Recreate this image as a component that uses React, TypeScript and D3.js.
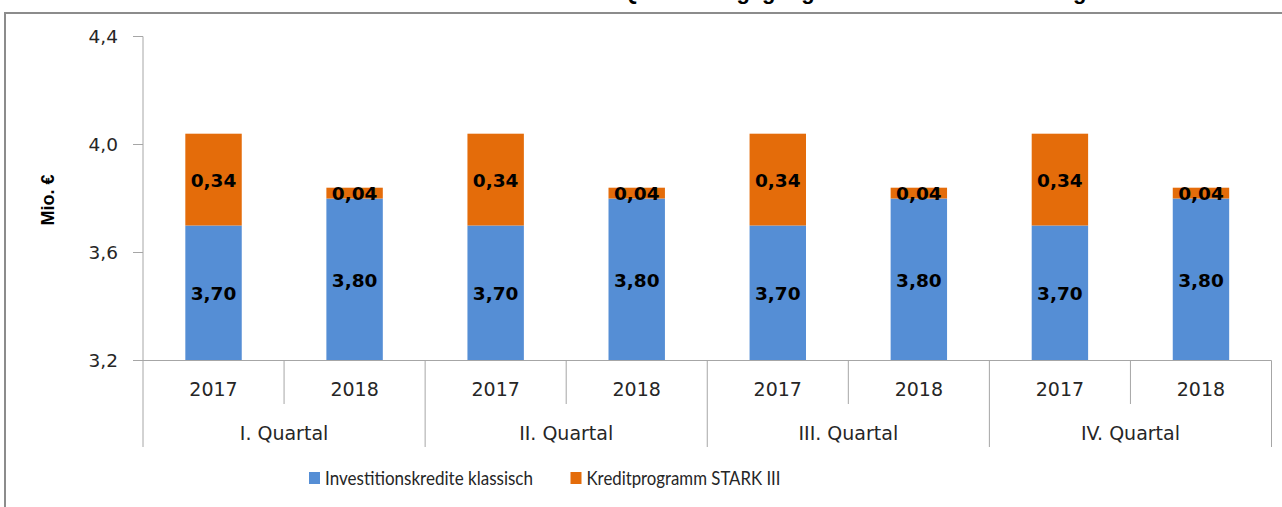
import React from "react";
import * as d3 from "d3";

const quarters = ["I. Quartal", "II. Quartal", "III. Quartal", "IV. Quartal"];
const years = ["2017", "2018"];
const klassisch = [3.7, 3.8, 3.7, 3.8, 3.7, 3.8, 3.7, 3.8];
const stark = [0.34, 0.04, 0.34, 0.04, 0.34, 0.04, 0.34, 0.04];
const yTicks = [3.2, 3.6, 4.0, 4.4];
const seriesNames = ["Investitionskredite klassisch", "Kreditprogramm STARK III"];
const titleText = "Kommunale Investitionskredite aus den im Quartal eingegangenen Summen von Anträgen";

const W = 1282;
const H = 507;
const BLUE = "#558ED5";
const ORANGE = "#E46C0A";
const AXIS = "#A6A6A6";
const TXT = "#262626";
const fmt = (v: number) => d3.format(".2f")(v).replace(".", ",");
const fmtTick = (v: number) => d3.format(".1f")(v).replace(".", ",");

export default function App() {
  const left = 143;
  const right = 1271.5;
  const y = d3.scaleLinear().domain([3.2, 4.4]).range([360.5, 36.5]);
  const cats = quarters.flatMap((q) => years.map((yr) => `${q}|${yr}`));
  const x = d3.scaleBand().domain(cats).range([left, right]).paddingInner(0).paddingOuter(0);
  const bw = x.bandwidth() * 0.4;
  const qx = d3.scaleBand().domain(quarters).range([left, right]);

  const stacked = cats.map((c, i) => ({
    c,
    top: klassisch[i] + stark[i],
    k: klassisch[i],
    s: stark[i],
  }));

  const y0 = y(3.2);
  const legendLens = [208, 194];
  const legendX = [309, 570.5];

  return (
    <svg width={W} height={H} style={{ position: "absolute", left: 0, top: 0, background: "#fff" }}>
      <text x={640} y={-1} textAnchor="middle" fontFamily="Liberation Sans, Arial, sans-serif" fontWeight="bold" fontSize={22} fill="#000">
        {titleText}
      </text>
      {/* outer frame */}
      <path d={`M5,${H} V13 H${W}`} fill="none" stroke="#8C8C8C" strokeWidth={2} />

      {/* y axis */}
      <line x1={left} x2={left} y1={y(4.4)} y2={447} stroke={AXIS} strokeWidth={1} />
      {yTicks.map((t) => (
        <g key={t}>
          <line x1={133} x2={left} y1={y(t)} y2={y(t)} stroke={AXIS} />
          <text x={118} y={y(t) + 6.5} textAnchor="end" fontFamily="DejaVu Sans, Verdana, sans-serif" fontSize={18.5} fill={TXT}>
            {fmtTick(t)}
          </text>
        </g>
      ))}
      <text transform={`translate(54,200) rotate(-90)`} textAnchor="middle" fontFamily="Liberation Sans, Arial, sans-serif" fontWeight="bold" fontSize={18} fill="#000">
        Mio. €
      </text>

      {/* bars */}
      {stacked.map((d) => {
        const cx = (x(d.c) as number) + x.bandwidth() / 2;
        return (
          <g key={d.c}>
            <rect x={cx - bw / 2} y={y(d.k)} width={bw} height={y0 - y(d.k)} fill={BLUE} />
            <rect x={cx - bw / 2} y={y(d.top)} width={bw} height={y(d.k) - y(d.top)} fill={ORANGE} />
            <text x={cx} y={(y(d.k) + y0) / 2 + 7} textAnchor="middle" fontFamily="DejaVu Sans, Verdana, sans-serif" fontWeight="bold" fontSize={18.5} fill="#000">
              {fmt(d.k)}
            </text>
            <text x={cx} y={(y(d.k) + y(d.top)) / 2 + 7} textAnchor="middle" fontFamily="DejaVu Sans, Verdana, sans-serif" fontWeight="bold" fontSize={18.5} fill="#000">
              {fmt(d.s)}
            </text>
          </g>
        );
      })}

      {/* x axis */}
      <line x1={133} x2={right} y1={y0} y2={y0} stroke={AXIS} />
      {cats.map((c, i) => {
        const x0 = x(c) as number;
        const isQ = i % 2 === 0;
        return (
          <g key={c}>
            {i > 0 && <line x1={x0} x2={x0} y1={y0} y2={isQ ? 447 : 404} stroke={AXIS} />}
            <text x={x0 + x.bandwidth() / 2} y={396} textAnchor="middle" fontFamily="DejaVu Sans, Verdana, sans-serif" fontSize={19} fill={TXT}>
              {c.split("|")[1]}
            </text>
          </g>
        );
      })}
      <line x1={right} x2={right} y1={y0} y2={447} stroke={AXIS} />
      {quarters.map((q) => (
        <text key={q} x={(qx(q) as number) + qx.bandwidth() / 2} y={440} textAnchor="middle" fontFamily="DejaVu Sans, Verdana, sans-serif" fontSize={19} fill={TXT}>
          {q}
        </text>
      ))}

      {/* legend */}
      {seriesNames.map((n, i) => {
        const lx = legendX[i];
        return (
          <g key={n}>
            <rect x={lx} y={472} width={11} height={12} fill={i === 0 ? BLUE : ORANGE} />
            <text x={lx + 16} y={485} fontFamily="Lato, Liberation Sans, sans-serif" fontSize={20} textLength={legendLens[i]} lengthAdjust="spacingAndGlyphs" fill={TXT}>
              {n}
            </text>
          </g>
        );
      })}
    </svg>
  );
}
